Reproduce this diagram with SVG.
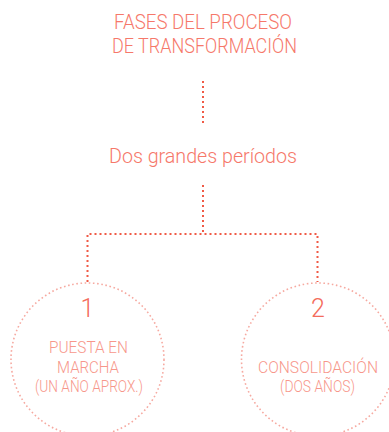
<svg xmlns="http://www.w3.org/2000/svg" width="389" height="432" viewBox="0 0 389 432">
<style>
  text { font-family: "Roboto", "Liberation Sans", sans-serif; font-weight: 300; text-anchor: middle; }
  .title { fill: #f6786a; font-size: 20px; }
  .sub { fill: #f6786a; font-size: 21px; }
  .num { fill: #f46c5c; font-size: 25px; }
  .lbl { fill: #f7978b; font-size: 17px; }
  .conn { fill: none; stroke: #f05a46; stroke-width: 2; stroke-dasharray: 2 3; }
  .ring { fill: none; stroke: #f6a9a0; stroke-width: 1.6; stroke-dasharray: 1.6 2.6; stroke-linecap: butt; }
</style>
<rect width="389" height="432" fill="#ffffff"/>
<g id="title">
  <text class="title" x="203" y="29" textLength="178" lengthAdjust="spacingAndGlyphs">FASES DEL PROCESO</text>
  <text class="title" x="204.5" y="53" textLength="185" lengthAdjust="spacingAndGlyphs">DE TRANSFORMACIÓN</text>
</g>
<g id="periodos">
  <text class="sub" x="203" y="163" textLength="188" lengthAdjust="spacingAndGlyphs">Dos grandes períodos</text>
</g>
<g id="connectors">
  <line class="conn" x1="203" y1="81" x2="203" y2="123"/>
  <line class="conn" x1="203" y1="185" x2="203" y2="233"/>
  <polyline class="conn" points="87.5,282 87.5,234 317.5,234 317.5,282"/>
</g>
<g id="node1">
  <circle class="ring" cx="87.5" cy="359.5" r="76.5"/>
  <text class="num" x="87.5" y="317">1</text>
  <text class="lbl" x="88.5" y="353" textLength="79" lengthAdjust="spacingAndGlyphs">PUESTA EN</text>
  <text class="lbl" x="88" y="373" textLength="62" lengthAdjust="spacingAndGlyphs">MARCHA</text>
  <text class="lbl" x="89" y="392" textLength="108" lengthAdjust="spacingAndGlyphs">(UN AÑO APROX.)</text>
</g>
<g id="node2">
  <circle class="ring" cx="318" cy="359.5" r="76.5"/>
  <text class="num" x="318" y="317">2</text>
  <text class="lbl" x="318" y="373" textLength="120" lengthAdjust="spacingAndGlyphs">CONSOLIDACIÓN</text>
  <text class="lbl" x="317.5" y="392" textLength="75" lengthAdjust="spacingAndGlyphs">(DOS AÑOS)</text>
</g>
</svg>
